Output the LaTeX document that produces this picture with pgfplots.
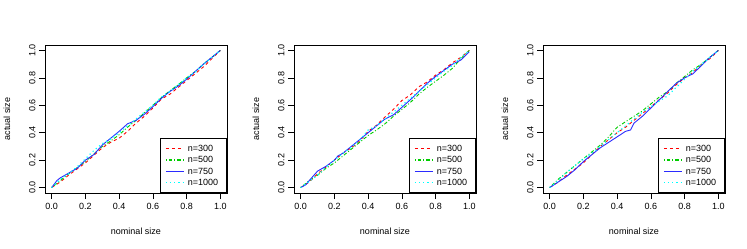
\documentclass[border=0pt]{standalone}
\usepackage{pgfplots}
\pgfplotsset{compat=1.18}
\usepackage{fontspec}
\setmainfont{Liberation Sans}
\definecolor{rred}{HTML}{FF0000}
\definecolor{rgreen}{HTML}{00CD00}
\definecolor{rblue}{HTML}{2B2BFF}
\definecolor{rcyan}{HTML}{00FFFF}
\pgfplotsset{
  panel/.style={
    width=182pt, height=148pt, scale only axis,
    xmin=-0.04, xmax=1.04, ymin=-0.04, ymax=1.04,
    xtick={0,0.2,0.4,0.6,0.8,1}, ytick={0,0.2,0.4,0.6,0.8,1},
    tick align=outside, major tick length=6pt, xtick pos=bottom, ytick pos=left,
    tick style={black, line width=0.6pt},
    axis line style={black, line width=0.6pt},
    /pgf/number format/fixed, /pgf/number format/fixed zerofill,
    /pgf/number format/precision=1, /pgf/number format/assume math mode=true,
    font=\fontsize{9}{10}\selectfont,
    ticklabel style={font=\fontsize{9}{10}\selectfont},
    xticklabel style={yshift=-1pt},
    yticklabel style={rotate=90, anchor=south},
    xlabel={nominal size}, ylabel={actual size},
    every axis x label/.style={at={(axis description cs:0.5,-0.2615)}, anchor=center, font=\fontsize{9}{10}\selectfont},
    every axis y label/.style={at={(axis description cs:-0.209,0.5)}, rotate=90, anchor=center, font=\fontsize{9}{10}\selectfont},
    legend style={at={(1,0)}, anchor=south east, draw=black, line width=0.6pt,
      font=\fontsize{9}{10}\selectfont, inner xsep=5pt, inner ysep=4.5pt, row sep=0pt,
      nodes={inner xsep=3.5pt, inner ysep=1.65pt, text height=7pt, text depth=1pt},
      /tikz/every even column/.append style={column sep=0pt}},
    legend cell align=left,
    legend image code/.code={\draw[#1, line width=1.3pt] (0pt,0pt) -- (18pt,0pt);},
  },
  s300/.style={draw=rred, color=rred, line width=0.9pt, dash pattern=on 3pt off 3pt},
  s500/.style={draw=rgreen, color=rgreen, line width=0.9pt, dash pattern=on 1pt off 2pt on 3.5pt off 2pt},
  s750/.style={draw=rblue, color=rblue, line width=0.9pt, solid},
  s1000/.style={draw=rcyan, color=rcyan, line width=1.2pt, dash pattern=on 1.2pt off 3pt},
}
\begin{document}
\begin{tikzpicture}
\path[use as bounding box] (0,0) rectangle (747pt,249pt);
% Panel 1
\begin{axis}[panel, at={(45pt,56pt)}, anchor=south west]
\addplot[s300] coordinates {(0,0) (0.05,0.04) (0.1,0.09) (0.15,0.135) (0.2,0.18) (0.25,0.235) (0.3,0.29) (0.35,0.33) (0.4,0.36) (0.45,0.41) (0.5,0.47) (0.55,0.52) (0.6,0.58) (0.65,0.645) (0.7,0.68) (0.75,0.73) (0.8,0.78) (0.85,0.83) (0.9,0.88) (0.95,0.94) (1,1)};
\addplot[s500] coordinates {(0,0) (0.05,0.05) (0.1,0.1) (0.15,0.145) (0.2,0.19) (0.25,0.245) (0.3,0.3) (0.35,0.34) (0.4,0.385) (0.45,0.44) (0.5,0.49) (0.55,0.545) (0.6,0.6) (0.65,0.655) (0.7,0.705) (0.75,0.75) (0.8,0.8) (0.85,0.845) (0.9,0.9) (0.95,0.95) (1,1)};
\addplot[s750] coordinates {(0,0) (0.03,0.05) (0.05,0.07) (0.1,0.105) (0.15,0.14) (0.2,0.2) (0.25,0.24) (0.3,0.31) (0.35,0.36) (0.4,0.41) (0.45,0.465) (0.5,0.49) (0.55,0.535) (0.6,0.59) (0.65,0.65) (0.7,0.7) (0.75,0.74) (0.8,0.79) (0.85,0.845) (0.9,0.9) (0.95,0.95) (1,1)};
\addplot[s1000] coordinates {(0,0) (0.05,0.06) (0.1,0.1) (0.15,0.15) (0.2,0.21) (0.25,0.27) (0.3,0.32) (0.35,0.355) (0.4,0.4) (0.45,0.45) (0.5,0.5) (0.55,0.55) (0.6,0.6) (0.65,0.66) (0.7,0.7) (0.75,0.75) (0.8,0.8) (0.85,0.84) (0.9,0.9) (0.95,0.95) (1,1)};
\legend{n=300,n=500,n=750,n=1000}
\end{axis}
% Panel 2
\begin{axis}[panel, at={(294pt,56pt)}, anchor=south west]
\addplot[s300] coordinates {(0,0) (0.05,0.04) (0.1,0.1) (0.15,0.15) (0.2,0.2) (0.25,0.25) (0.3,0.29) (0.35,0.34) (0.4,0.41) (0.45,0.455) (0.5,0.515) (0.55,0.57) (0.6,0.635) (0.65,0.675) (0.7,0.735) (0.75,0.77) (0.8,0.82) (0.85,0.86) (0.9,0.91) (0.95,0.95) (1,1)};
\addplot[s500] coordinates {(0,0) (0.05,0.05) (0.1,0.09) (0.15,0.14) (0.2,0.18) (0.25,0.23) (0.3,0.28) (0.35,0.33) (0.4,0.38) (0.45,0.42) (0.5,0.465) (0.55,0.52) (0.6,0.57) (0.65,0.62) (0.7,0.68) (0.75,0.73) (0.8,0.775) (0.85,0.82) (0.9,0.87) (0.95,0.94) (1,1)};
\addplot[s750] coordinates {(0,0) (0.03,0.02) (0.05,0.05) (0.1,0.12) (0.15,0.155) (0.2,0.2) (0.22,0.23) (0.25,0.25) (0.3,0.3) (0.35,0.35) (0.4,0.4) (0.45,0.45) (0.5,0.5) (0.55,0.53) (0.6,0.585) (0.65,0.64) (0.7,0.7) (0.75,0.76) (0.8,0.81) (0.85,0.855) (0.9,0.9) (0.95,0.93) (1,0.99)};
\addplot[s1000] coordinates {(0,0) (0.05,0.045) (0.1,0.09) (0.15,0.15) (0.2,0.2) (0.25,0.25) (0.3,0.295) (0.35,0.345) (0.4,0.42) (0.45,0.45) (0.5,0.5) (0.55,0.55) (0.6,0.6) (0.65,0.65) (0.7,0.7) (0.75,0.75) (0.8,0.8) (0.85,0.85) (0.9,0.89) (0.95,0.95) (1,1)};
\legend{n=300,n=500,n=750,n=1000}
\end{axis}
% Panel 3
\begin{axis}[panel, at={(543pt,56pt)}, anchor=south west]
\addplot[s300] coordinates {(0,0) (0.05,0.04) (0.1,0.09) (0.15,0.135) (0.2,0.18) (0.25,0.24) (0.3,0.3) (0.35,0.35) (0.4,0.4) (0.45,0.44) (0.5,0.49) (0.55,0.54) (0.6,0.59) (0.65,0.64) (0.7,0.69) (0.75,0.75) (0.8,0.8) (0.85,0.84) (0.9,0.9) (0.95,0.94) (1,1)};
\addplot[s500] coordinates {(0,0) (0.05,0.06) (0.1,0.11) (0.15,0.16) (0.2,0.21) (0.25,0.26) (0.3,0.31) (0.35,0.37) (0.4,0.44) (0.45,0.48) (0.5,0.52) (0.55,0.56) (0.6,0.61) (0.65,0.66) (0.7,0.7) (0.75,0.76) (0.8,0.81) (0.85,0.86) (0.9,0.9) (0.95,0.95) (1,1)};
\addplot[s750] coordinates {(0,0) (0.05,0.04) (0.1,0.08) (0.15,0.13) (0.2,0.19) (0.25,0.24) (0.3,0.29) (0.35,0.33) (0.4,0.37) (0.45,0.41) (0.48,0.42) (0.5,0.47) (0.55,0.52) (0.6,0.58) (0.65,0.64) (0.7,0.7) (0.75,0.76) (0.8,0.8) (0.85,0.83) (0.9,0.89) (0.95,0.95) (1,1)};
\addplot[s1000] coordinates {(0,0) (0.05,0.05) (0.1,0.11) (0.15,0.16) (0.2,0.21) (0.25,0.25) (0.3,0.3) (0.35,0.35) (0.4,0.4) (0.45,0.45) (0.5,0.5) (0.55,0.55) (0.6,0.59) (0.65,0.63) (0.7,0.67) (0.75,0.73) (0.8,0.79) (0.85,0.85) (0.9,0.9) (0.95,0.95) (1,1)};
\legend{n=300,n=500,n=750,n=1000}
\end{axis}
\end{tikzpicture}
\end{document}
